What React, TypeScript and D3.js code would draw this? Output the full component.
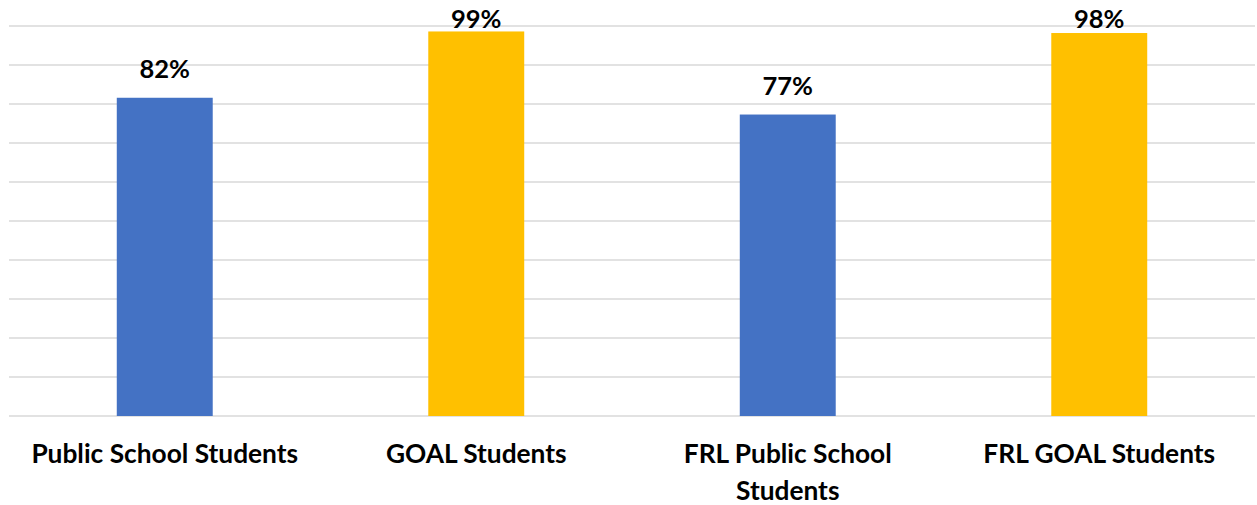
import React from "react";
import * as d3 from "d3";

const categories = [
  "Public School Students",
  "GOAL Students",
  "FRL Public School Students",
  "FRL GOAL Students",
];
const values = [81.6, 98.6, 77.3, 98.2];
const barColors = ["#4472C4", "#FFC000", "#4472C4", "#FFC000"];
const gridTicks = [0, 10, 20, 30, 40, 50, 60, 70, 80, 90, 100];

const W = 1257;
const H = 505;
const FONT = "Lato, 'Open Sans', sans-serif";
const CAT_SIZE = 26.3;
const VAL_SIZE = 25.5;

function measure(text: string, size: number): number {
  const c = document.createElement("canvas").getContext("2d");
  if (!c) return text.length * size * 0.5;
  c.font = `bold ${size}px Lato`;
  return c.measureText(text).width;
}

function wrap(text: string, maxW: number, size: number): string[] {
  const words = text.split(" ");
  const lines: string[] = [];
  let cur = "";
  for (const w of words) {
    const t = cur ? cur + " " + w : w;
    if (cur && measure(t, size) > maxW) {
      lines.push(cur);
      cur = w;
    } else cur = t;
  }
  if (cur) lines.push(cur);
  return lines;
}

export default function App() {
  const x = d3
    .scaleBand<string>()
    .domain(categories)
    .range([9, 1255])
    .paddingInner(0.692)
    .paddingOuter(0.346);
  const y = d3.scaleLinear().domain([0, 100]).range([416, 26]);
  const fmt = (v: number) => d3.format(".0f")(v) + "%";
  const step = x.step();

  return (
    <svg
      width={W}
      height={H}
      style={{ position: "absolute", left: 0, top: 0, background: "#fff" }}
      fontFamily={FONT}
    >
      {gridTicks.map((t) => (
        <line
          key={t}
          x1={9}
          x2={1255}
          y1={y(t)}
          y2={y(t)}
          stroke="#D9D9D9"
          strokeWidth={1.5}
        />
      ))}
      {categories.map((c, i) => {
        const bx = x(c)!;
        const top = y(values[i]);
        const ly = Math.max(top - 20, 28);
        return (
          <g key={c}>
            <rect
              x={bx}
              y={top}
              width={x.bandwidth()}
              height={y(0) - top}
              fill={barColors[i]}
            />
            <text
              x={bx + x.bandwidth() / 2}
              y={ly}
              textAnchor="middle"
              fontWeight="bold"
              fontSize={VAL_SIZE}
              fill="#000"
            >
              {fmt(values[i])}
            </text>
          </g>
        );
      })}
      {categories.map((c) => {
        const cx = x(c)! + x.bandwidth() / 2;
        const lines = wrap(c, step - 20, CAT_SIZE);
        return (
          <text
            key={c + "-lab"}
            x={cx}
            y={463}
            textAnchor="middle"
            fontWeight="bold"
            fontSize={CAT_SIZE}
            fill="#000"
          >
            {lines.map((l, j) => (
              <tspan key={j} x={cx} dy={j === 0 ? 0 : 36.5}>
                {l}
              </tspan>
            ))}
          </text>
        );
      })}
    </svg>
  );
}
